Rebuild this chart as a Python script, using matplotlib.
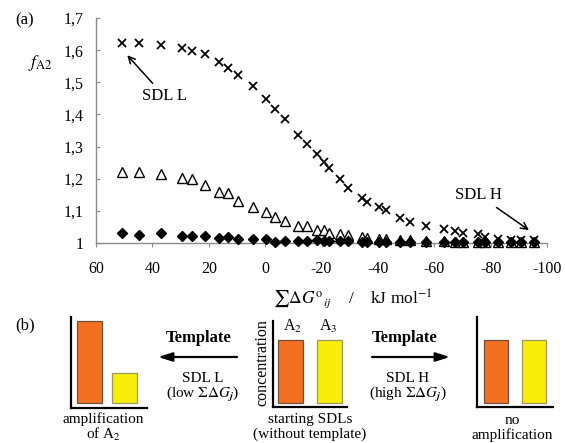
import matplotlib
matplotlib.use('Agg')
import matplotlib.pyplot as plt
from matplotlib.patches import FancyArrowPatch

plt.rcParams['font.family'] = ['Liberation Serif', 'DejaVu Serif']
plt.rcParams['mathtext.fontset'] = 'stix'

# ---- data: panel (a) ----
dg_sum = [50.7, 44.7, 36.8, 29.4, 25.8, 21.2, 16.2, 13.3, 9.8, 4.4, -0.2, -3.4,
          -7.0, -11.6, -14.8, -18.4, -20.9, -22.7, -26.6, -29.5, -34.4, -36.2,
          -40.5, -43.0, -48.0, -51.5, -57.2, -63.3, -67.2, -70.1, -75.4, -77.9,
          -82.6, -87.2, -90.7, -95.4]
f_cross = [1.621, 1.621, 1.615, 1.606, 1.596, 1.587, 1.562, 1.543, 1.522, 1.488,
           1.447, 1.416, 1.385, 1.335, 1.307, 1.276, 1.252, 1.233, 1.199, 1.171,
           1.140, 1.127, 1.112, 1.102, 1.078, 1.065, 1.053, 1.043, 1.037, 1.031,
           1.028, 1.019, 1.012, 1.009, 1.009, 1.009]
f_triangle = [1.220, 1.220, 1.214, 1.202, 1.199, 1.180, 1.158, 1.155, 1.130, 1.112,
              1.096, 1.081, 1.068, 1.053, 1.053, 1.040, 1.040, 1.031, 1.028, 1.025,
              1.019, 1.017, 1.013, 1.011, 1.009, 1.008, 1.006, 1.005, 1.004, 1.004,
              1.003, 1.003, 1.002, 1.002, 1.002, 1.002]
f_diamond = [1.031, 1.025, 1.031, 1.022, 1.022, 1.022, 1.016, 1.019, 1.012, 1.012,
             1.012, 1.003, 1.006, 1.006, 1.006, 1.008, 1.005, 1.006, 1.005, 1.005,
             1.004, 1.004, 1.004, 1.004, 1.004, 1.003, 1.003, 1.003, 1.003, 1.003,
             1.003, 1.002, 1.002, 1.002, 1.002, 1.002]

x_ticks = [60, 40, 20, 0, -20, -40, -60, -80, -100]
x_tick_labels = ['60', '40', '20', '0', '-20', '-40', '-60', '-80', '-100']
y_ticks = [1.0, 1.1, 1.2, 1.3, 1.4, 1.5, 1.6, 1.7]
y_tick_labels = ['1', '1,1', '1,2', '1,3', '1,4', '1,5', '1,6', '1,7']

# ---- data: panel (b) schematic ----
amp_heights = [1.0, 0.37]
start_heights = [0.77, 0.77]
none_heights = [0.77, 0.77]
bar_names = ['A$_2$', 'A$_3$']
bar_colors = ['#F37021', '#F8EE0A']
bar_edges = ['#6b5040', '#9a9a5a']

W, H = 565, 443
fig = plt.figure(figsize=(5.65, 4.43), dpi=100)


def fx(px):
    return px / W


def fy(py):
    return 1 - py / H


# panel (a)
ax = fig.add_axes([fx(96), fy(243), fx(547) - fx(96), fy(18) - fy(243)])
ax.plot(dg_sum, f_triangle, linestyle='none', marker='^', ms=7, mfc='white',
        mec='black', mew=1.0, clip_on=False, zorder=3)
ax.plot(dg_sum, f_diamond, linestyle='none', marker='D', ms=5, color='black',
        clip_on=False, zorder=4)
ax.plot(dg_sum, f_cross, linestyle='none', marker='x', ms=6, color='black',
        mew=1.3, clip_on=False, zorder=5)

ax.set_xlim(60, -100)
ax.set_ylim(1, 1.7)
ax.set_xticks(x_ticks, labels=x_tick_labels)
ax.set_yticks(y_ticks, labels=y_tick_labels)
for s in ['top', 'right']:
    ax.spines[s].set_visible(False)
for s in ['left', 'bottom']:
    ax.spines[s].set_color('#8a8a8a')
    ax.spines[s].set_linewidth(1.0)
ax.tick_params(axis='y', direction='in', length=3, color='#8a8a8a',
               labelsize=11.5, pad=9)
ax.tick_params(axis='x', direction='out', length=3, color='#8a8a8a',
               labelsize=11.5, pad=10)

ax.annotate('SDL L', xy=(48.9, 1.584), xytext=(35.8, 1.457), fontsize=12,
            ha='center', va='center',
            arrowprops=dict(arrowstyle='->', color='black', lw=1.1,
                            shrinkA=2, shrinkB=0))
ax.annotate('SDL H', xy=(-93.6, 1.040), xytext=(-75.8, 1.149), fontsize=12,
            ha='center', va='center',
            arrowprops=dict(arrowstyle='->', color='black', lw=1.1,
                            shrinkA=2, shrinkB=0))

fig.text(fx(25), fy(20), '(a)', fontsize=12, ha='center', va='center')
fig.text(fx(40), fy(63), r'$f_{\mathrm{A2}}$', fontsize=13, ha='center', va='center')
fig.text(fx(353), fy(299),
         r'$\sum\Delta G^{\mathrm{o}}{}_{ij}$    /    kJ mol$^{-1}$',
         fontsize=12.5, ha='center', va='center')

# panel (b)
fig.text(fx(25), fy(325), '(b)', fontsize=12, ha='center', va='center')


def mini_chart(left, right, top, bottom, base, centers, heights, bar_w):
    # pixel geometry -> small axes; 82 px per unit height
    unit = 82.0
    a = fig.add_axes([fx(left), fy(bottom), fx(right) - fx(left), fy(top) - fy(bottom)])
    spacing = centers[1] - centers[0]
    a.bar([0, 1], heights, width=bar_w / spacing, color=bar_colors,
          edgecolor=bar_edges, linewidth=0.9)
    a.set_xlim(-(centers[0] - left) / spacing, (right - centers[0]) / spacing)
    a.set_ylim(-(bottom - base) / unit, (base - top) / unit)
    for s in ['top', 'right']:
        a.spines[s].set_visible(False)
    for s in ['left', 'bottom']:
        a.spines[s].set_color('black')
        a.spines[s].set_linewidth(1.6)
    a.set_xticks([])
    a.set_yticks([])
    a.patch.set_alpha(0)
    return a


mini_chart(71, 147, 317, 408, 403, [89.5, 124.5], amp_heights, 25)
mini_chart(273, 347, 321, 407, 403, [290.5, 329], start_heights, 25)
mini_chart(477, 553, 317, 407, 403, [496, 534], none_heights, 24)

for xc, name in zip([293, 328], bar_names):
    fig.text(fx(xc), fy(326), name, fontsize=11.5, ha='center', va='center')
fig.text(fx(262), fy(363), 'concentration', fontsize=11.5, rotation=90,
         ha='center', va='center')

fs_b = 11
fig.text(fx(103), fy(419), 'amplification', fontsize=fs_b, ha='center', va='center')
fig.text(fx(103), fy(434), 'of A$_2$', fontsize=fs_b, ha='center', va='center')
fig.text(fx(310), fy(419), 'starting SDLs', fontsize=fs_b, ha='center', va='center')
fig.text(fx(310), fy(434), '(without template)', fontsize=fs_b, ha='center', va='center')
fig.text(fx(512), fy(421), 'no', fontsize=fs_b, ha='center', va='center')
fig.text(fx(512), fy(435), 'amplification', fontsize=fs_b, ha='center', va='center')

arrow_style = dict(arrowstyle='-|>,head_length=0.7,head_width=0.22',
                   color='black', lw=1.6, shrinkA=0, shrinkB=0)
fig.text(fx(199), fy(338), 'Template', fontsize=12, fontweight='bold',
         ha='center', va='center')
fig.add_artist(FancyArrowPatch((fx(237), fy(357)), (fx(158), fy(357)),
                               transform=fig.transFigure, mutation_scale=12,
                               **arrow_style))
fig.text(fx(203), fy(378), 'SDL L', fontsize=fs_b, ha='center', va='center')
fig.text(fx(203), fy(394), r'(low $\Sigma\Delta G_{\boldsymbol{j}}$)', fontsize=fs_b,
         ha='center', va='center')

fig.text(fx(405), fy(338), 'Template', fontsize=12, fontweight='bold',
         ha='center', va='center')
fig.add_artist(FancyArrowPatch((fx(372), fy(357)), (fx(450), fy(357)),
                               transform=fig.transFigure, mutation_scale=12,
                               **arrow_style))
fig.text(fx(408), fy(378), 'SDL H', fontsize=fs_b, ha='center', va='center')
fig.text(fx(408), fy(394), r'(high $\Sigma\Delta G_{\boldsymbol{j}}$)', fontsize=fs_b,
         ha='center', va='center')

fig.savefig('out.png', dpi=100)
